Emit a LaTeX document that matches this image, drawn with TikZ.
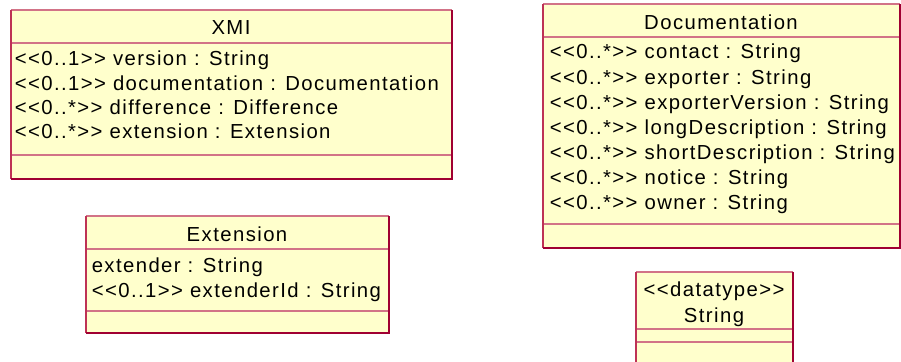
\documentclass[tikz,border=0pt]{standalone}
\usepackage{fontspec}
\setmainfont{Liberation Sans}[LetterSpace=7,Ligatures=TeXOff]
\usetikzlibrary{positioning}
\definecolor{classfill}{RGB}{255,255,204}
\definecolor{darkedge}{RGB}{160,0,50}
\definecolor{midedge}{RGB}{190,50,85}
\definecolor{lightedge}{RGB}{210,115,135}

% class box: x1, y1, x2, y2, header line, attribute line
\newcommand{\classbox}[6]{%
\fill[classfill] (#1,#2) rectangle (#3,#4);
\draw[lightedge] (#1,#5) -- (#3,#5) (#1,#6) -- (#3,#6) (#1,#2) -- (#3,#2);
\draw[midedge] (#1,#2) -- (#1,#4);
\draw[darkedge] (#1,#4) -| (#3,#2);
}

\begin{document}
\begin{tikzpicture}[x=1pt,y=-1pt,line width=1.5pt,
  txt/.style={inner sep=0pt,font=\fontsize{20.3}{25}\selectfont},
  attr/.style={txt,anchor=base west},
  title/.style={txt,anchor=base}]
	\useasboundingbox (0,0) rectangle (901,361);
	
	\classbox{11}{10}{452}{179}{43}{155}
	\node[title] (xmi) at (231,35) {XMI};
	\node[attr] (xmi1) at (14,65) {<<0..1>> version : String};
	\node[attr] (xmi2) at (14,90) {<<0..1>> documentation : Documentation};
	\node[attr] (xmi3) at (14,114) {<<0..*>> difference : Difference};
	\node[attr] (xmi4) at (14,138) {<<0..*>> extension : Extension};
	
	\classbox{543}{4}{900}{248}{37}{224}
	\node[title] (doc) at (721,30) {Documentation};
	\node[attr] (doc1) at (549,59) {<<0..*>> contact : String};
	\node[attr] (doc2) at (549,84) {<<0..*>> exporter : String};
	\node[attr] (doc3) at (549,109) {<<0..*>> exporterVersion : String};
	\node[attr] (doc4) at (549,134) {<<0..*>> longDescription : String};
	\node[attr] (doc5) at (549,159) {<<0..*>> shortDescription : String};
	\node[attr] (doc6) at (549,184) {<<0..*>> notice : String};
	\node[attr] (doc7) at (549,209) {<<0..*>> owner : String};
	
	\classbox{86}{216}{389}{333}{249}{311}
	\node[title] (ext) at (237,241) {Extension};
	\node[attr] (ext1) at (91,272) {extender : String};
	\node[attr] (ext2) at (91,297) {<<0..1>> extenderId : String};
	
	\classbox{636}{272}{793}{372}{329}{342}
	\node[title] (str1) at (714,296) {<<datatype>>};
	\node[title] (str2) at (714,322) {String};
\end{tikzpicture}
\end{document}
